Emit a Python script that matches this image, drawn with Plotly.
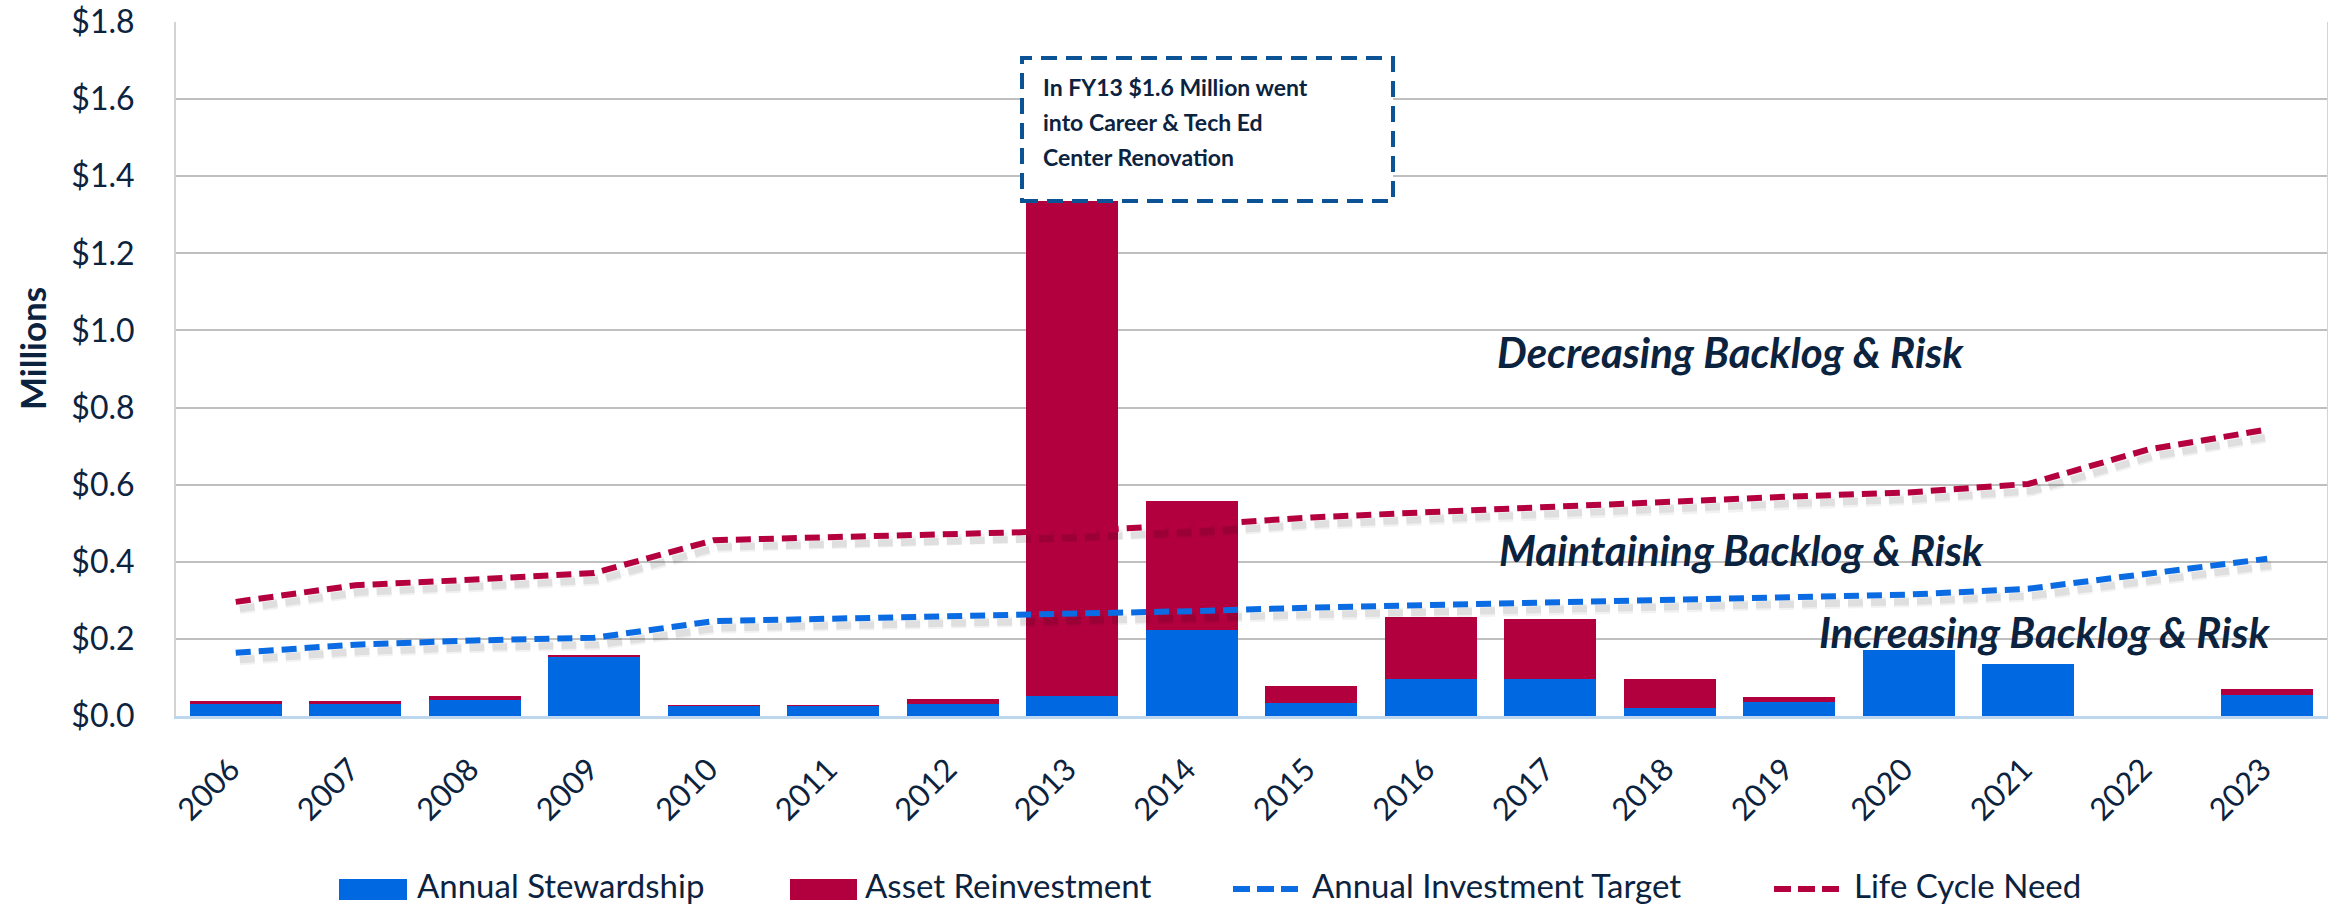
import plotly.graph_objects as go

# ---------------- data (millions of $) ----------------
years = [str(y) for y in range(2006, 2024)]
stewardship = [0.030, 0.031, 0.041, 0.155, 0.027, 0.026, 0.031, 0.051, 0.222,
               0.034, 0.096, 0.096, 0.021, 0.036, 0.172, 0.136, 0.0, 0.054]
reinvestment = [0.008, 0.008, 0.011, 0.004, 0.001, 0.002, 0.013, 1.549, 0.335,
                0.044, 0.160, 0.155, 0.075, 0.014, 0.0, 0.0, 0.0, 0.016]
investment_target = [0.164, 0.185, 0.196, 0.203, 0.246, 0.252, 0.259, 0.265, 0.272,
                     0.281, 0.287, 0.293, 0.300, 0.308, 0.315, 0.330, 0.369, 0.408]
life_cycle_need = [0.296, 0.339, 0.354, 0.371, 0.456, 0.464, 0.472, 0.480, 0.495,
                   0.515, 0.529, 0.543, 0.556, 0.569, 0.580, 0.602, 0.691, 0.743]

series_names = ["Annual Stewardship", "Asset Reinvestment",
                "Annual Investment Target", "Life Cycle Need"]
note_lines = ["In FY13 $1.6 Million went", "into Career & Tech Ed", "Center Renovation"]
zone_labels = ["Decreasing Backlog & Risk", "Maintaining Backlog & Risk",
               "Increasing Backlog & Risk"]

# ---------------- styling ----------------
W, H = 2328, 907
ML, MR, MT, MB = 176, 1, 22, 191
PW, PH = W - ML - MR, H - MT - MB
BLUE = "#0068e0"
RED = "#b2003e"
BLUE_LINE = "#0a6be3"
RED_LINE = "#b5003f"
NAVY = "#0c2340"
FONT = "Lato"
DASH = "15px,8px"
Y_RANGE = [0, 1.8001]
X_RANGE = [-0.5, 17.5]


def px_x(p):
    """pixel x -> paper x"""
    return (p - ML) / PW


def px_y(p):
    """pixel y -> paper y"""
    return (H - MB - p) / PH


fig = go.Figure()

# bars
fig.add_trace(go.Bar(x=years, y=stewardship, name=series_names[0],
                     marker=dict(color=BLUE, line=dict(width=0)), showlegend=False))
fig.add_trace(go.Bar(x=years, y=reinvestment, name=series_names[1],
                     marker=dict(color=RED, line=dict(width=0)), showlegend=False))

# soft drop shadows of the lines (same data, drawn on slightly offset overlay axes)
for vals in (investment_target, life_cycle_need):
    for w, a in ((11, 0.05), (7, 0.08)):
        fig.add_trace(go.Scatter(x=years, y=vals, xaxis="x2", yaxis="y2", mode="lines",
                                 line=dict(color="rgba(0,0,0,%.2f)" % a, width=w, dash=DASH),
                                 hoverinfo="skip", showlegend=False))

# lines
fig.add_trace(go.Scatter(x=years, y=investment_target, xaxis="x3", yaxis="y3",
                         mode="lines", name=series_names[2], showlegend=False,
                         line=dict(color=BLUE_LINE, width=6, dash=DASH)))
fig.add_trace(go.Scatter(x=years, y=life_cycle_need, xaxis="x3", yaxis="y3",
                         mode="lines", name=series_names[3], showlegend=False,
                         line=dict(color=RED_LINE, width=6, dash=DASH)))

dx = 4 / (PW / 18)
dy = 7 / (PH / 1.8)

fig.update_layout(
    width=W, height=H,
    margin=dict(l=ML, r=MR, t=MT, b=MB, autoexpand=False),
    paper_bgcolor="white", plot_bgcolor="white",
    barmode="stack", bargap=0.23,
    font=dict(family=FONT, color=NAVY),
    showlegend=False,
    xaxis=dict(type="category", range=X_RANGE, tickangle=-45,
               tickfont=dict(family=FONT, size=31, color=NAVY),
               showgrid=False, showline=True, linecolor="#bdd7ee", linewidth=3,
               ticks="", ticklabelstandoff=20, ticklabelshift=-5,
               zeroline=False, automargin=False),
    yaxis=dict(range=Y_RANGE, dtick=0.2, tick0=0, tickformat="$.1f",
               tickfont=dict(family=FONT, size=32, color=NAVY),
               showgrid=True, gridcolor="#bfbfbf", gridwidth=2,
               showline=True, linecolor="#d4d4d4", linewidth=2, mirror=True,
               zeroline=False, ticks="", ticklabelstandoff=33, automargin=False,
               ticklabeloverflow="allow"),
    xaxis2=dict(type="category", overlaying="x", range=[X_RANGE[0] - dx, X_RANGE[1] - dx],
                visible=False),
    yaxis2=dict(overlaying="y", range=[Y_RANGE[0] + dy, Y_RANGE[1] + dy], visible=False),
    xaxis3=dict(type="category", overlaying="x", range=X_RANGE, visible=False),
    yaxis3=dict(overlaying="y", range=Y_RANGE, visible=False),
)

annotations = []
shapes = []

# y-axis title
annotations.append(dict(xref="paper", yref="paper", x=px_x(32), y=px_y(349),
                        text="<b>Millions</b>", textangle=-90, showarrow=False,
                        font=dict(family=FONT, size=35, color=NAVY),
                        xanchor="center", yanchor="middle"))

# FY13 note box
shapes.append(dict(type="rect", xref="paper", yref="paper", layer="above",
                   x0=px_x(1022), x1=px_x(1393), y0=px_y(201), y1=px_y(58),
                   line=dict(color="#0b5394", width=4, dash="16px,9px"),
                   fillcolor="white"))
for i, line_text in enumerate(note_lines):
    annotations.append(dict(xref="paper", yref="paper", x=px_x(1041), y=px_y(87 + 35 * i),
                            text="<b>" + line_text + "</b>", showarrow=False,
                            xanchor="left", yanchor="middle",
                            font=dict(family=FONT, size=23, color=NAVY)))

# zone labels
zone_pos = [(1730, 352), (1741, 550), (2044, 632)]
for txt, (cx, cy) in zip(zone_labels, zone_pos):
    annotations.append(dict(xref="paper", yref="paper", x=px_x(cx), y=px_y(cy),
                            text="<b><i>" + txt + "</i></b>", showarrow=False,
                            xanchor="center", yanchor="middle",
                            font=dict(family=FONT, size=42, color=NAVY)))

# custom legend
leg_y = 889
leg_text_y = 885
legend_items = [
    (339, 407, 415, series_names[0], "bar", BLUE),
    (790, 857, 863, series_names[1], "bar", RED),
    (1233, 1298, 1310, series_names[2], "line", BLUE_LINE),
    (1774, 1840, 1852, series_names[3], "line", RED_LINE),
]
for x0, x1, tx, label, kind, col in legend_items:
    if kind == "bar":
        shapes.append(dict(type="rect", xref="paper", yref="paper",
                           x0=px_x(x0), x1=px_x(x1), y0=px_y(leg_y + 11), y1=px_y(leg_y - 10),
                           line=dict(width=0), fillcolor=col))
    else:
        shapes.append(dict(type="line", xref="paper", yref="paper",
                           x0=px_x(x0), x1=px_x(x1), y0=px_y(leg_y), y1=px_y(leg_y),
                           line=dict(color=col, width=6, dash="17px,7px")))
    annotations.append(dict(xref="paper", yref="paper", x=px_x(tx), y=px_y(leg_text_y),
                            text=label, showarrow=False, xanchor="left", yanchor="middle",
                            font=dict(family=FONT, size=33, color=NAVY)))

fig.update_layout(annotations=annotations, shapes=shapes)

fig.write_html("out.html",
               config={"displayModeBar": False},
               post_script="document.body.style.margin='0';document.body.style.overflow='hidden';")
